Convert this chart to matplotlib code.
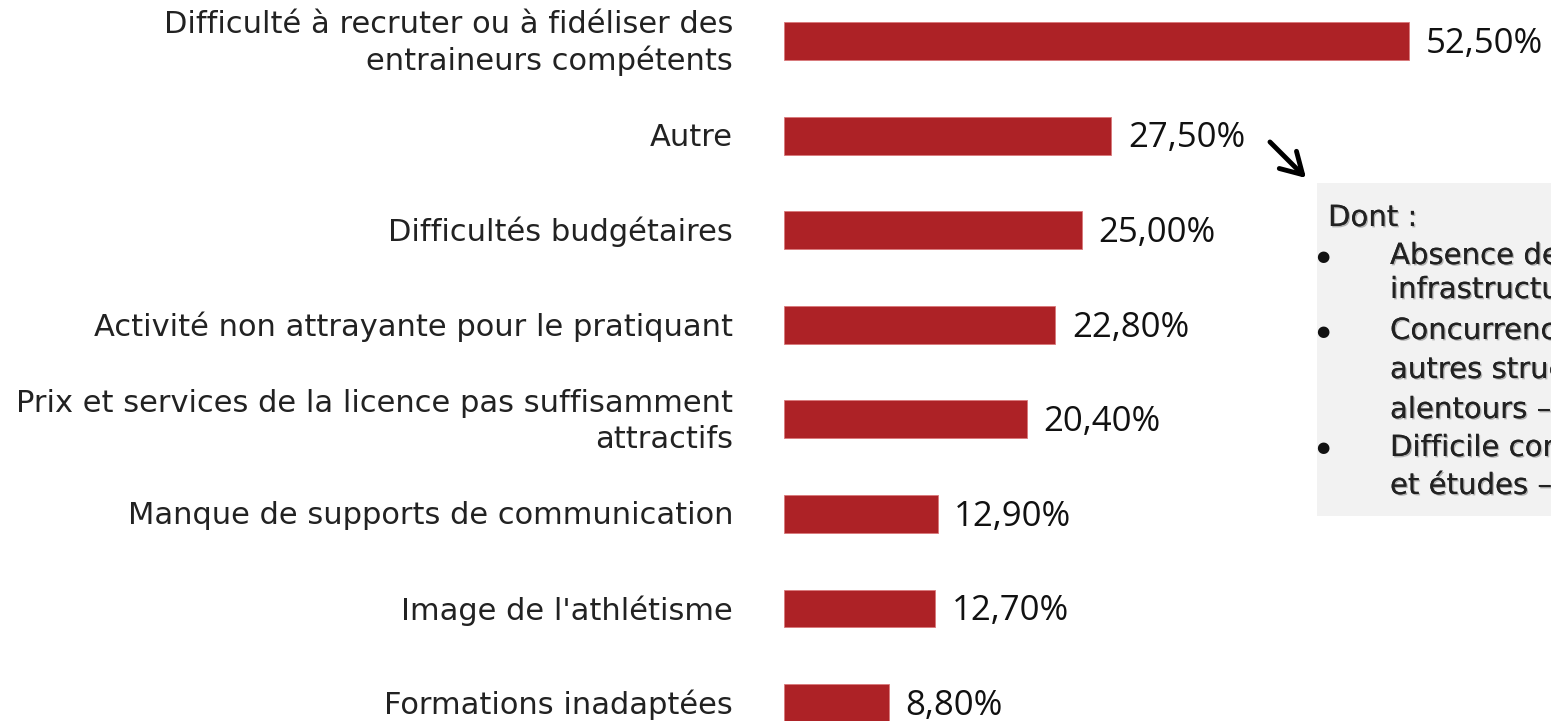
import matplotlib.pyplot as plt
import matplotlib.patheffects as pe
from matplotlib.patches import Rectangle, FancyArrowPatch

categories = ["Difficulté à recruter ou à fidéliser des\nentraineurs compétents",
              "Autre",
              "Difficultés budgétaires",
              "Activité non attrayante pour le pratiquant",
              "Prix et services de la licence pas suffisamment\nattractifs",
              "Manque de supports de communication",
              "Image de l'athlétisme",
              "Formations inadaptées"]
values = [52.5, 27.5, 25.0, 22.8, 20.4, 12.9, 12.7, 8.8]
note_lines = ["Absence de", "infrastructures", "Concurrence des", "autres structures aux",
              "alentours \u2013", "Difficile conciliation", "et études \u2013"]

W, H = 1551, 721
fig = plt.figure(figsize=(W / 100, H / 100), dpi=100)
ax = fig.add_axes([784 / W, 0, 1 - 784 / W, 1])

red = "#ad2226"
ypos = list(range(len(values)))
ax.barh(ypos, values, height=0.4, color=red, edgecolor="#d9777a", linewidth=0.6)
ax.set_xlim(0, (W - 784) / 11.905)
ax.set_ylim(7.19, -0.434)
ax.axis("off")

for y, v in zip(ypos, values):
    ax.text(v + 1.4, y + 0.03, f"{v:.2f}%".replace(".", ","), va="center", ha="left",
            fontsize=25, family="Open Sans", color="#111111")

for y, c in zip(ypos, categories):
    ax.text(-51 / 11.905, y + 0.02, c, va="center", ha="right", fontsize=22,
            family="DejaVu Sans", color="#222222", linespacing=1.3)


def fx(px):
    return px / W


def fy(py):
    return 1 - py / H


fig.patches.append(Rectangle((fx(1317), fy(516)), fx(W) - fx(1317), fy(183) - fy(516),
                             transform=fig.transFigure, facecolor="#f2f2f2", edgecolor="none"))
fig.patches.append(FancyArrowPatch((fx(1268), fy(140)), (fx(1308), fy(180)),
                                   transform=fig.transFigure, arrowstyle="->,head_length=6,head_width=3.5",
                                   mutation_scale=2.5, color="black", linewidth=3.5))

shadow = [pe.withSimplePatchShadow(offset=(1, -1), shadow_rgbFace="#888888", alpha=0.6), pe.Normal()]
fig.text(fx(1328), fy(218), "Dont :", fontsize=21, family="DejaVu Sans", va="center",
         color="#222222", path_effects=shadow)
line_y = [256, 290, 331, 370, 410, 448, 486]
for ly, t in zip(line_y, note_lines):
    fig.text(fx(1390), fy(ly), t, fontsize=21, family="DejaVu Sans", va="center",
             color="#222222", path_effects=shadow)
for by in [256, 331, 448]:
    fig.text(fx(1316), fy(by), "\u25cf", fontsize=11, family="DejaVu Sans", va="center",
             color="#111111")

fig.savefig("out.png", dpi=100)
